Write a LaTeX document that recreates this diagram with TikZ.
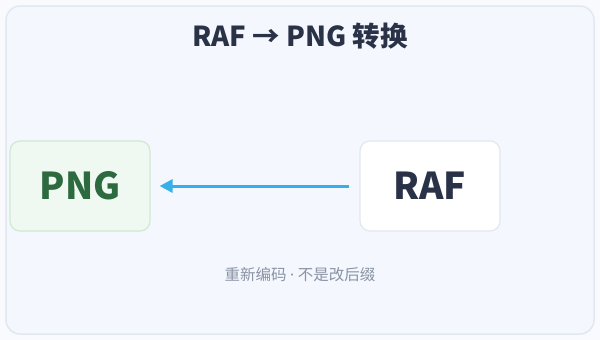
\documentclass[tikz,border=0pt]{standalone}
\usepackage{fontspec}
\setmainfont{Noto Sans CJK SC}
\newfontfamily\dotfont{Noto Sans}
\usepackage{xcolor}
\usetikzlibrary{positioning, arrows.meta}

\definecolor{panelbg}{HTML}{F4F7FD}
\definecolor{panelline}{HTML}{E2E8F0}
\definecolor{inkdark}{HTML}{2A3248}
\definecolor{pngfill}{HTML}{F0F9F1}
\definecolor{pngline}{HTML}{CFE9D3}
\definecolor{pngtext}{HTML}{2D6A40}
\definecolor{flowblue}{HTML}{35B0EA}
\definecolor{notegray}{HTML}{8A93A5}

\begin{document}
\begin{tikzpicture}[
    x=1pt, y=-1pt,
    box/.style={draw, rectangle, rounded corners=10pt, line width=1.2pt,
                minimum width=140pt, minimum height=90pt, align=center,
                font=\bfseries\fontsize{37}{40}\selectfont},
    target/.style={box, fill=pngfill, draw=pngline, text=pngtext},
    source/.style={box, fill=white, draw=panelline, text=inkdark},
    arrow/.style={-{Triangle[length=13pt, width=13pt]}, line width=3pt, flowblue},
    title/.style={font=\bfseries\fontsize{27.5}{30}\selectfont, text=inkdark},
    note/.style={font=\fontsize{15.5}{18}\selectfont, text=notegray}
]
\useasboundingbox (0,0) rectangle (600,340);
\fill[panelbg!60!white] (0,0) rectangle (600,340);
% Panel
\draw[panelline, fill=panelbg, line width=1.5pt, rounded corners=14pt]
      (6,6) rectangle (594,334);
\node[title] (head) at (300,36) {RAF → PNG 转换};
% Formats
\node[target] (png) at (80,186) {PNG};
\node[source] (raf) at (430,186) {RAF};
\draw[arrow, shorten <=10pt, shorten >=9pt] (raf) -- (png);
% Note
\node[note] (hint) at (300,275) {重新编码 {\dotfont·} 不是改后缀};
\end{tikzpicture}
\end{document}
